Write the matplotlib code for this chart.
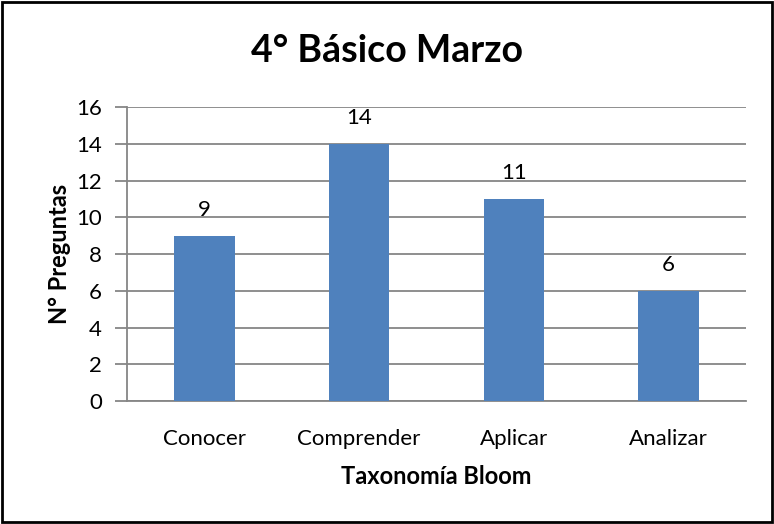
import matplotlib.pyplot as plt
from matplotlib.patches import Rectangle

categorias = ["Conocer", "Comprender", "Aplicar", "Analizar"]
preguntas = [9, 14, 11, 6]
y_ticks = [0, 2, 4, 6, 8, 10, 12, 14, 16]

plt.rcParams['font.family'] = ['Lato', 'DejaVu Sans']

fig = plt.figure(figsize=(7.74, 5.24), dpi=100)
ax = fig.add_axes([0.1641, 0.2347, 0.7997, 0.5611])

gris = '#868686'
x = range(len(categorias))
ax.bar(x, preguntas, width=0.39, color='#4F81BD', zorder=3)
for xi, v in zip(x, preguntas):
    ax.text(xi, v + 0.85, str(v), ha='center', va='bottom', fontsize=16)

ax.set_xlim(-0.5, len(categorias) - 0.5)
ax.set_ylim(0, 16)
ax.set_yticks(y_ticks)
ax.set_xticks(list(x))
ax.set_xticklabels(categorias, fontsize=16)
ax.tick_params(axis='y', labelsize=16, length=9, width=1.3, color=gris, pad=9)
ax.tick_params(axis='x', length=0, pad=20)
ax.yaxis.grid(True, color=gris, linewidth=1.3, zorder=0)
ax.set_axisbelow(True)
for lado in ['top', 'right']:
    ax.spines[lado].set_visible(False)
for lado in ['left', 'bottom']:
    ax.spines[lado].set_color(gris)
    ax.spines[lado].set_linewidth(1.3)

ax.set_xlabel("Taxonomía Bloom", fontsize=17, fontweight='bold', labelpad=12)
ax.set_ylabel("N° Preguntas", fontsize=17, fontweight='bold', labelpad=4)
fig.text(0.5, 0.903, "4° Básico Marzo", ha='center', va='center',
         fontsize=27, fontweight='bold')

# black frame around the whole chart
fig.patches.append(Rectangle((0.002, 0.004), 0.996, 0.993, transform=fig.transFigure,
                             fill=False, edgecolor='black', linewidth=2))

fig.savefig("out.png", dpi=100)
